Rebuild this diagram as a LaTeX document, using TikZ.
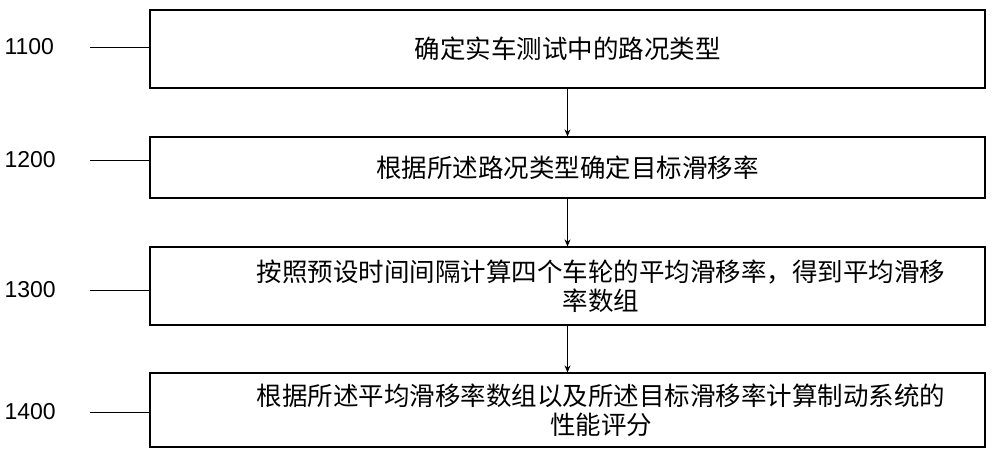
\documentclass[tikz,border=0pt]{standalone}
\usepackage{fontspec}
\setmainfont{Liberation Sans}
\newfontfamily\cjk{Noto Sans CJK SC}
\usetikzlibrary{arrows.meta}
\begin{document}
\begin{tikzpicture}[x=1pt,y=-1pt,
  box/.style={draw,line width=1.2pt,inner sep=0pt,align=center,font=\cjk\fontsize{25.5}{29}\selectfont},
  txt/.style={inner sep=0pt,align=center,font=\cjk\fontsize{25.5}{29}\selectfont},
  lab/.style={font=\fontsize{23}{26}\selectfont,anchor=west},
  arr/.style={-{Stealth[length=7pt,width=6pt]},line width=1pt},
  lead/.style={line width=1pt}]
\useasboundingbox (0,0) rectangle (1000,456);
\node[box,minimum width=835pt,minimum height=78pt] (b1) at (567.5,49) {确定实车测试中的路况类型};
\node[box,minimum width=835pt,minimum height=61pt] (b2) at (567.5,167.5) {根据所述路况类型确定目标滑移率};
\node[box,minimum width=835pt,minimum height=78pt] (b3) at (567.5,286) {};
\node[txt] (t3) at (601,286) {按照预设时间间隔计算四个车轮的平均滑移率，得到平均滑移\\率数组};
\node[box,minimum width=835pt,minimum height=74pt] (b4) at (567.5,410) {};
\node[txt] (t4) at (601,410) {根据所述平均滑移率数组以及所述目标滑移率计算制动系统的\\性能评分};
\draw[arr] (b1.south) -- (b2.north);
\draw[arr] (b2.south) -- (b3.north);
\draw[arr] (b3.south) -- (b4.north);
\node[lab] (l1) at (1,47) {1100};
\node[lab] (l2) at (1,160) {1200};
\node[lab] (l3) at (1,290) {1300};
\node[lab] (l4) at (1,412) {1400};
\coordinate (c1) at (90,47); \coordinate (c2) at (90,160);
\coordinate (c3) at (90,290); \coordinate (c4) at (90,412);
\draw[lead] (c1) -- (c1 -| b1.west);
\draw[lead] (c2) -- (c2 -| b2.west);
\draw[lead] (c3) -- (c3 -| b3.west);
\draw[lead] (c4) -- (c4 -| b4.west);
\end{tikzpicture}
\end{document}
